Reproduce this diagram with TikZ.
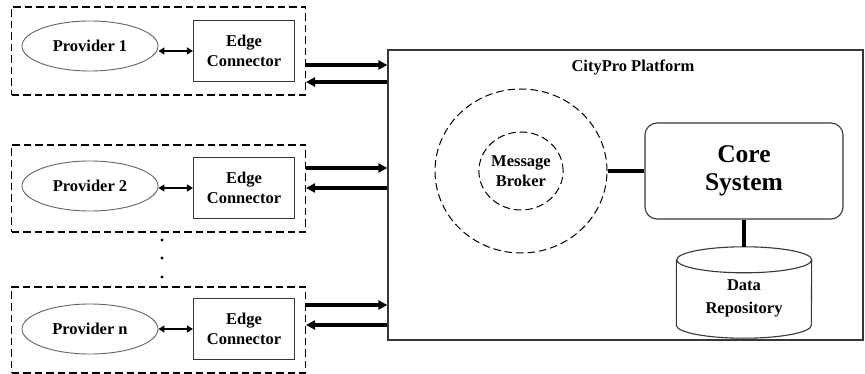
\documentclass[tikz,border=0pt]{standalone}
\usepackage{fontspec}
\setmainfont{Liberation Serif}
\usepackage{xcolor}
\definecolor{framegray}{RGB}{55, 55, 55}
\definecolor{ovalgray}{RGB}{100, 100, 100}
\usepackage{tikz}
\usetikzlibrary{arrows.meta, positioning, calc, shapes.geometric}

\tikzset{
    lbl/.style={font=\bfseries\fontsize{16.5}{20}\selectfont, align=center},
    dashline/.style={dash pattern=on 7.5pt off 4pt},
    groupbox/.style={draw=black, line width=1.1pt, dashline, minimum width=294pt},
    provider/.style={lbl, ellipse, draw=ovalgray, line width=0.9pt, minimum width=136pt, minimum height=50pt, inner sep=0pt},
    connbox/.style={lbl, draw=framegray, line width=1.1pt, minimum width=101pt, minimum height=61pt},
    flow/.style={line width=3.3pt, -{Triangle[length=9pt, width=9pt]}},
    link/.style={line width=2.3pt, {Triangle[length=6pt, width=7pt]}-{Triangle[length=6pt, width=7pt]}},
    tie/.style={line width=3.2pt}
}

\begin{document}
\begin{tikzpicture}[x=1pt, y=-1pt]
    \useasboundingbox (0,0) rectangle (865,374);

    % providers with their edge connectors
    \node[groupbox, minimum height=88pt] (grp1) at (158.5,51) {};
    \node[groupbox, minimum height=87pt] (grp2) at (158.5,188.5) {};
    \node[groupbox, minimum height=86pt] (grp3) at (158.5,330) {};

    \node[provider] (prov1) at (90,46) {Provider 1};
    \node[provider] (prov2) at (90,186) {Provider 2};
    \node[provider] (prov3) at (90,329) {Provider n};

    \node[connbox] (edge1) at (244,51) {Edge\\Connector};
    \node[connbox] (edge2) at (244,188) {Edge\\Connector};
    \node[connbox] (edge3) at (244,329) {Edge\\Connector};

    \draw[link] (prov1.east |- edge1) -- (edge1.west);
    \draw[link] (prov2.east |- edge2) -- (edge2.west);
    \draw[link] (prov3.east |- edge3) -- (edge3.west);

    % the dots between provider 2 and provider n
    \foreach \y in {240,258,277}
        \fill (162,\y) circle (1.6pt);

    % platform
    \node[draw=framegray, line width=1.3pt, minimum width=475pt, minimum height=290pt] (plat) at (625.5,195) {};
    \node[lbl] (title) at (633,67) {CityPro Platform};

    \node[ellipse, draw=black, line width=1pt, dashline, minimum width=172pt, minimum height=164pt] (bus) at (521,171) {};
    \node[lbl, ellipse, draw=black, line width=1pt, dashline, minimum width=83pt, minimum height=78pt, inner sep=0pt] (broker) at (521,171) {Message\\Broker};

    \node[draw=framegray, line width=1.1pt, rounded corners=12pt, minimum width=198pt, minimum height=96pt, align=center,
          font=\bfseries\fontsize{25.5}{28}\selectfont] (core) at (744,171) {Core\\System};

    % data repository drawn as a cylinder round its node
    \node[minimum width=135pt, minimum height=91pt] (repo) at (744,292.5) {};
    \draw[framegray, line width=1.1pt]
        ([yshift=-13pt]repo.north west) -- ([yshift=13pt]repo.south west)
        arc[start angle=180, end angle=360, x radius=67.5pt, y radius=13pt]
        -- ([yshift=-13pt]repo.north east)
        arc[start angle=0, end angle=360, x radius=67.5pt, y radius=13pt];
    \node[lbl, font=\bfseries\fontsize{16.5}{23}\selectfont] (repotext) at (744,298) {Data\\Repository};

    \draw[tie] (bus.east) -- (core.west);
    \draw[tie] (core.south) -- (repo.north);

    % traffic between the edge connectors and the platform
    \draw[flow] (grp1.east |- 0,65) -- (plat.west |- 0,65);
    \draw[flow] (plat.west |- 0,82) -- (grp1.east |- 0,82);
    \draw[flow] (grp2.east |- 0,168) -- (plat.west |- 0,168);
    \draw[flow] (plat.west |- 0,188) -- (grp2.east |- 0,188);
    \draw[flow] (grp3.east |- 0,305) -- (plat.west |- 0,305);
    \draw[flow] (plat.west |- 0,325) -- (grp3.east |- 0,325);
\end{tikzpicture}
\end{document}
